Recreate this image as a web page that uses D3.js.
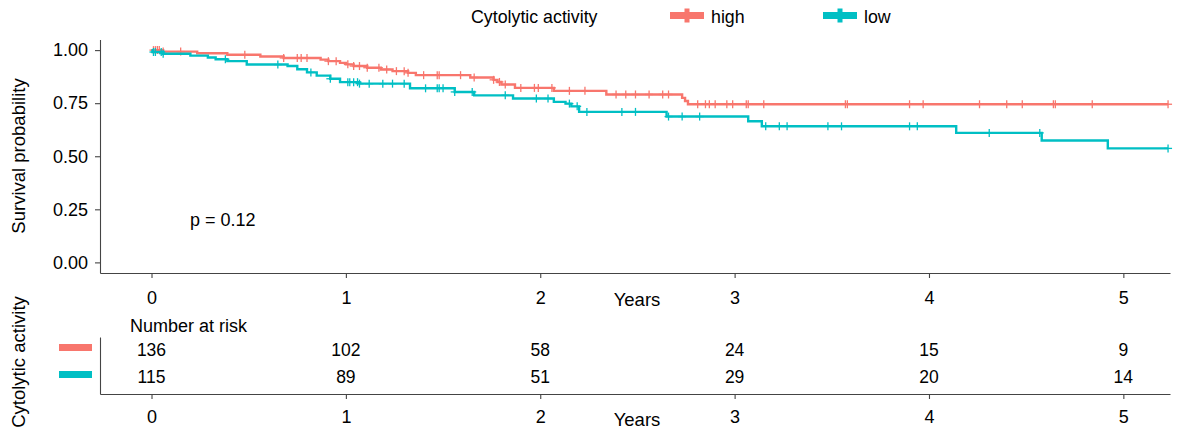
<!DOCTYPE html>
<meta charset="utf-8">
<style>

body { margin: 0; background: #fff; }

text {
  font-family: "Liberation Sans", Arial, sans-serif;
  fill: #000;
}

.axis path, .axis line {
  stroke: #444;
  stroke-width: 1.1px;
}

.axis text {
  font-family: "Liberation Sans", Arial, sans-serif;
  font-size: 18px;
  fill: #000;
}

.curve {
  fill: none;
  stroke-width: 2.4px;
}

.censor {
  stroke-width: 1.3px;
}

</style>
<svg width="1178" height="435"></svg>
<script src="https://d3js.org/d3.v7.min.js"></script>
<script>

var groups = ["high", "low"];
var years = [0, 1, 2, 3, 4, 5];
var survTicks = [0, 0.25, 0.5, 0.75, 1];
var endTime = 5.23;

// Kaplan-Meier steps (time in years, survival after the step)
var highTimes = [0.06, 0.235, 0.39, 0.56, 0.68, 0.87, 0.91, 0.97, 1.00, 1.04, 1.11, 1.18, 1.24, 1.32, 1.36,
                 1.64, 1.76, 1.78, 1.80, 1.87, 2.07, 2.34, 2.73, 2.745, 2.76];
var highSurv  = [0.993, 0.985, 0.978, 0.970, 0.963, 0.955, 0.948, 0.940, 0.933, 0.925, 0.917, 0.909, 0.901, 0.893, 0.882,
                 0.871, 0.860, 0.850, 0.838, 0.822, 0.808, 0.791, 0.775, 0.760, 0.745];
var highCensor = [0.01, 0.02, 0.03, 0.04, 0.06, 0.15, 0.48, 0.68, 0.75, 0.77, 0.80, 0.91, 0.95, 1.01, 1.04, 1.07, 1.11,
                  1.17, 1.21, 1.26, 1.30, 1.32, 1.40, 1.47, 1.48, 1.59, 1.66, 1.76, 1.79, 1.82, 1.90, 1.97, 1.99, 2.06,
                  2.15, 2.23, 2.39, 2.44, 2.49, 2.56, 2.63, 2.66, 2.81, 2.85, 2.87, 2.90, 2.96, 2.99, 3.06, 3.07, 3.15,
                  3.57, 3.58, 3.90, 3.97, 4.26, 4.40, 4.48, 4.64, 4.65, 4.84, 5.23];

var lowTimes = [0.005, 0.06, 0.20, 0.29, 0.33, 0.39, 0.49, 0.70, 0.75, 0.80, 0.85, 0.92, 0.97, 1.07, 1.33,
                1.56, 1.66, 1.86, 2.07, 2.13, 2.16, 2.20, 2.65, 3.07, 3.14, 4.14, 4.58, 4.92];
var lowSurv  = [0.991, 0.983, 0.974, 0.965, 0.957, 0.948, 0.932, 0.925, 0.910, 0.895, 0.880, 0.865, 0.849, 0.842, 0.820,
                0.803, 0.787, 0.772, 0.756, 0.748, 0.735, 0.709, 0.687, 0.665, 0.641, 0.610, 0.574, 0.537];
var lowCensor = [0.01, 0.02, 0.05, 0.06, 0.38, 0.65, 0.82, 0.92, 1.01, 1.02, 1.04, 1.06, 1.07, 1.12, 1.19, 1.24, 1.30,
                 1.41, 1.47, 1.48, 1.50, 1.56, 1.65, 1.82, 1.98, 2.04, 2.15, 2.19, 2.24, 2.42, 2.49, 2.66, 2.73, 2.82,
                 3.16, 3.23, 3.27, 3.48, 3.55, 3.90, 3.94, 4.31, 4.57, 5.23];

var highRisk = [136, 102, 58, 24, 15, 9];
var lowRisk  = [115, 89, 51, 29, 20, 14];

var pLabel = "p = 0.12";

var curves = [
  {id: "high", times: highTimes, surv: highSurv, censor: highCensor, risk: highRisk},
  {id: "low", times: lowTimes, surv: lowSurv, censor: lowCensor, risk: lowRisk}
];

var svg = d3.select("svg");

var x = d3.scaleLinear().domain([-0.265, 5.24]).range([100, 1170]),
    y = d3.scaleLinear().domain([-0.05, 1.05]).range([273, 39.5]),
    z = d3.scaleOrdinal().domain(groups).range(["#F8766D", "#00BFC4"]),
    row = d3.scalePoint().domain(groups).range([350, 377]);

function stepPoints(c) {
  var pts = [[0, 1]];
  c.times.forEach(function(t, i) { pts.push([t, c.surv[i]]); });
  pts.push([endTime, c.surv[c.surv.length - 1]]);
  return pts;
}

function survAt(c, t) {
  var s = 1;
  c.times.forEach(function(ti, i) { if (ti <= t) s = c.surv[i]; });
  return s;
}

var line = d3.line()
    .curve(d3.curveStepAfter)
    .x(function(d) { return x(d[0]); })
    .y(function(d) { return y(d[1]); });

// ---- survival panel
svg.append("g")
    .attr("class", "axis")
    .attr("transform", "translate(0,273)")
    .call(d3.axisBottom(x).tickValues(years).tickFormat(d3.format("d"))
      .tickSize(5).tickSizeOuter(0).tickPadding(13));

svg.append("g")
    .attr("class", "axis")
    .attr("transform", "translate(100,0)")
    .call(d3.axisLeft(y).tickValues(survTicks).tickFormat(d3.format(".2f"))
      .tickSize(5).tickSizeOuter(0).tickPadding(7));

var curve = svg.selectAll(".km")
  .data(curves)
  .enter().append("g")
    .attr("class", "km");

curve.append("path")
    .attr("class", "curve")
    .attr("d", function(d) { return line(stepPoints(d)); })
    .style("stroke", function(d) { return z(d.id); });

curve.each(function(c) {
  var marks = d3.select(this).selectAll(".censor")
    .data(c.censor)
    .enter().append("g")
      .attr("class", "censor")
      .attr("transform", function(t) { return "translate(" + x(t) + "," + y(survAt(c, t)) + ")"; })
      .style("stroke", z(c.id));
  marks.append("line").attr("x1", -4).attr("x2", 4);
  marks.append("line").attr("y1", -4).attr("y2", 4);
});

svg.append("text")
    .attr("x", 190)
    .attr("y", 226)
    .style("font-size", "18px")
    .text(pLabel);

svg.append("text")
    .attr("x", 637)
    .attr("y", 306)
    .attr("text-anchor", "middle")
    .style("font-size", "18.5px")
    .text("Years");

svg.append("text")
    .attr("transform", "translate(19,156) rotate(-90)")
    .attr("text-anchor", "middle")
    .attr("dy", "0.35em")
    .style("font-size", "18.5px")
    .text("Survival probability");

// ---- legend
svg.append("text")
    .attr("x", 471)
    .attr("y", 23)
    .style("font-size", "17.8px")
    .text("Cytolytic activity");

var key = svg.selectAll(".key")
  .data(groups)
  .enter().append("g")
    .attr("class", "key")
    .attr("transform", function(d, i) { return "translate(" + (670 + i * 153) + ",0)"; });

key.append("rect")
    .attr("y", 12).attr("width", 34).attr("height", 7)
    .style("fill", function(d) { return z(d); });

key.append("rect")
    .attr("x", 14.5).attr("y", 8.5).attr("width", 5).attr("height", 14)
    .style("fill", function(d) { return z(d); });

key.append("text")
    .attr("x", 41)
    .attr("y", 23)
    .style("font-size", "17.8px")
    .text(function(d) { return d; });

// ---- risk table
svg.append("text")
    .attr("x", 130)
    .attr("y", 332)
    .style("font-size", "18px")
    .text("Number at risk");

svg.append("g")
    .attr("class", "axis")
    .attr("transform", "translate(0,394)")
    .call(d3.axisBottom(x).tickValues(years).tickFormat(d3.format("d"))
      .tickSize(5).tickSizeOuter(0).tickPadding(11));

svg.append("g")
    .attr("class", "axis")
    .attr("transform", "translate(100,0)")
    .call(d3.axisLeft(d3.scaleLinear().range([337, 394])).tickValues([]).tickSizeOuter(0));

var riskRow = svg.selectAll(".risk")
  .data(curves)
  .enter().append("g")
    .attr("class", "risk");

riskRow.append("rect")
    .attr("x", 59)
    .attr("y", function(d) { return row(d.id) - 6; })
    .attr("width", 33)
    .attr("height", 7)
    .style("fill", function(d) { return z(d.id); });

riskRow.selectAll("text")
  .data(function(d) { return d.risk.map(function(n, i) { return {id: d.id, t: years[i], n: n}; }); })
  .enter().append("text")
    .attr("x", function(d) { return x(d.t); })
    .attr("y", function(d) { return row(d.id); })
    .attr("dy", "0.35em")
    .attr("text-anchor", "middle")
    .style("font-size", "17.5px")
    .text(function(d) { return d.n; });

svg.append("text")
    .attr("x", 637)
    .attr("y", 426)
    .attr("text-anchor", "middle")
    .style("font-size", "18.5px")
    .text("Years");

svg.append("text")
    .attr("transform", "translate(19,362) rotate(-90)")
    .attr("text-anchor", "middle")
    .attr("dy", "0.35em")
    .style("font-size", "18.5px")
    .text("Cytolytic activity");

</script>
